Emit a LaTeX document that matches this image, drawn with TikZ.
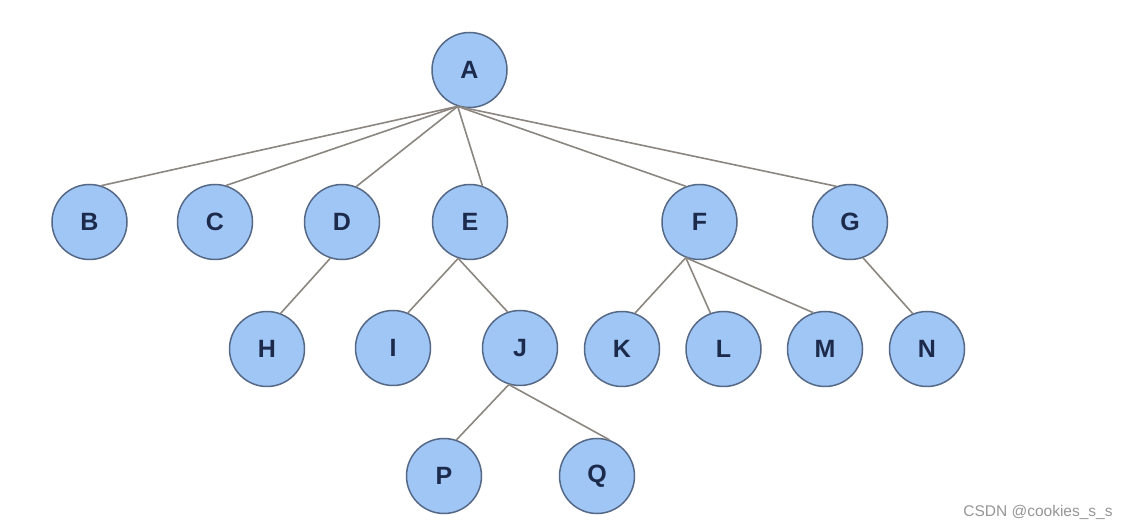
\documentclass[tikz,border=0pt]{standalone}
\usepackage{fontspec}
\setmainfont{Liberation Sans}
\definecolor{nodefill}{RGB}{160,198,245}
\definecolor{nodeborder}{RGB}{85,105,135}
\definecolor{nodetext}{RGB}{28,42,75}
\definecolor{edgecol}{RGB}{140,134,128}
\definecolor{markcol}{RGB}{150,150,150}
\begin{document}
\begin{tikzpicture}[x=1pt,y=1pt,
  tnode/.style={circle,draw=nodeborder,fill=nodefill,line width=1.5pt,minimum size=75pt,inner sep=0pt,
    font=\fontsize{25}{25}\selectfont\bfseries,text=nodetext},
  tedge/.style={draw=edgecol,line width=1.6pt}]
\useasboundingbox (0,0) rectangle (1132,530);
\fill[white] (0,0) rectangle (1132,530);
\node[tnode] (A) at (469.5,460) {A};
\node[tnode] (B) at (89.5,308) {B};
\node[tnode] (C) at (215,308) {C};
\node[tnode] (D) at (342,308) {D};
\node[tnode] (E) at (470,308) {E};
\node[tnode] (F) at (699.5,308) {F};
\node[tnode] (G) at (850,308) {G};
\node[tnode] (H) at (267,181) {H};
\node[tnode] (I) at (393,182) {I};
\node[tnode] (J) at (520,182) {J};
\node[tnode] (K) at (622,181) {K};
\node[tnode] (L) at (723.5,181) {L};
\node[tnode] (M) at (825,181) {M};
\node[tnode] (N) at (927,181) {N};
\node[tnode] (P) at (444,54) {P};
\node[tnode] (Q) at (597,54) {Q};
\draw[tedge] (A.252) -- (B.72);
\draw[tedge] (A.252) -- (C.73);
\draw[tedge] (A.252) -- (D.68);
\draw[tedge] (A.252) -- (E.71);
\draw[tedge] (A.252) -- (F.111);
\draw[tedge] (A.252) -- (G.111);
\draw[tedge] (D.252) -- (H.69);
\draw[tedge] (E.252) -- (I.67);
\draw[tedge] (E.252) -- (J.109);
\draw[tedge] (F.249) -- (K.70);
\draw[tedge] (F.249) -- (L.110);
\draw[tedge] (F.249) -- (M.108);
\draw[tedge] (G.290) -- (N.112);
\draw[tedge] (J.253) -- (P.71);
\draw[tedge] (J.253) -- (Q.71);
\node[font=\fontsize{15.5}{15.5}\selectfont,text=markcol,inner sep=0pt] (wm) at (1038,18) {CSDN @cookies\_s\_s};
\end{tikzpicture}
\end{document}
